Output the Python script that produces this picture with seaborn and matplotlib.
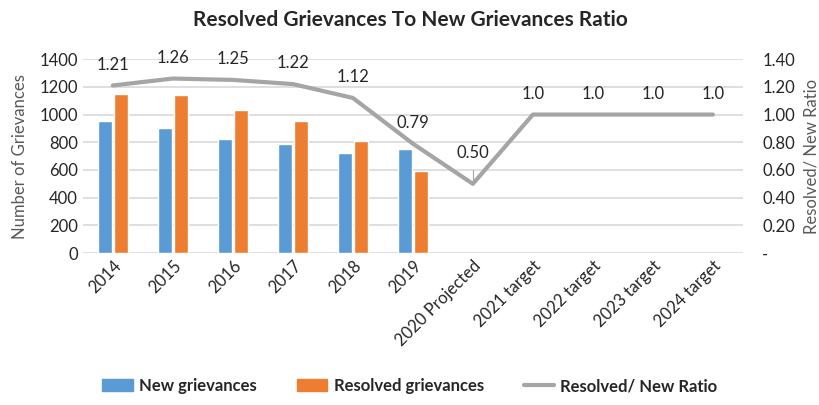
import numpy as np
import pandas as pd
import matplotlib
matplotlib.use('Agg')
import matplotlib.pyplot as plt
import seaborn as sns
from matplotlib.lines import Line2D
from matplotlib.patches import Patch

# data
categories = ['2014', '2015', '2016', '2017', '2018', '2019', '2020 Projected',
              '2021 target', '2022 target', '2023 target', '2024 target']
new_grievances = [950, 905, 825, 785, 725, 755]
resolved_grievances = [1145, 1140, 1035, 955, 810, 595]
ratio = [1.21, 1.26, 1.25, 1.22, 1.12, 0.79, 0.50, 1.0, 1.0, 1.0, 1.0]
ratio_labels = ['1.21', '1.26', '1.25', '1.22', '1.12', '0.79', '0.50', '1.0', '1.0', '1.0', '1.0']

blue = '#5B9BD5'
orange = '#ED7D31'
grey = '#A5A5A5'

sns.set_style('white')
plt.rcParams['font.family'] = ['Lato', 'DejaVu Sans']

years = categories[:len(new_grievances)]
bars = pd.DataFrame({
    'Category': years * 2,
    'Value': new_grievances + resolved_grievances,
    'Series': ['New grievances'] * len(years) + ['Resolved grievances'] * len(years),
})

fig = plt.figure(figsize=(8.2, 4.05), dpi=100)
ax = fig.add_axes([0.101, 0.375, 0.805, 0.479])

sns.barplot(data=bars, x='Category', y='Value', hue='Series', order=categories,
            palette=[blue, orange], saturation=1, width=0.52, gap=0.1, ax=ax, legend=False)
ax.set_xlim(-0.5, len(categories) - 0.5)
ax.set_ylim(0, 1400)
ax.set_yticks(range(0, 1401, 200))
ax.yaxis.grid(True, color='#D9D9D9', linewidth=1.2)
ax.set_axisbelow(True)
ax.set_xlabel('')
ax.set_ylabel('Number of Grievances', color='#595959', fontsize=12, labelpad=8)
ax.tick_params(axis='y', labelsize=12, length=0)
ax.tick_params(axis='x', labelsize=12, length=0)
ax.set_xticks(range(len(categories)))
ax.set_xticklabels(categories, rotation=45, ha='right', rotation_mode='anchor')
for s in ax.spines.values():
    s.set_visible(False)

ax2 = ax.twinx()
xpos = np.arange(len(categories))
sns.lineplot(x=xpos, y=ratio, color=grey, linewidth=3, ax=ax2)
ax2.set_ylim(0, 1.4)
ax2.set_yticks(np.arange(0, 1.41, 0.2))
ax2.set_yticklabels(['-'] + ['%.2f' % v for v in np.arange(0.2, 1.41, 0.2)])
ax2.tick_params(axis='y', labelsize=12, length=0, pad=14)
ax2.set_ylabel('Resolved/ New Ratio', color='#595959', fontsize=12, labelpad=6)
for s in ax2.spines.values():
    s.set_visible(False)

for i, (v, lab) in enumerate(zip(ratio, ratio_labels)):
    off = 22 if i == 6 else 15
    ax2.annotate(lab, (i, v), xytext=(0, off), textcoords='offset points',
                 ha='center', va='center', fontsize=12)
    if i == 6:
        ax2.plot([i, i], [v + 0.03, v + 0.1], color=grey, linewidth=0.8)

fig.suptitle('Resolved Grievances To New Grievances Ratio', fontsize=15,
             fontweight='bold', y=0.975)

handles = [Patch(color=blue, label='New grievances'),
           Patch(color=orange, label='Resolved grievances'),
           Line2D([0], [0], color=grey, linewidth=3, label='Resolved/ New Ratio')]
fig.legend(handles=handles, loc='lower center', ncol=3, frameon=False,
           bbox_to_anchor=(0.5, -0.01), prop={'weight': 'bold', 'size': 12},
           handlelength=1.8, handletextpad=0.4, columnspacing=2.4)

fig.savefig('out.png', dpi=100)
